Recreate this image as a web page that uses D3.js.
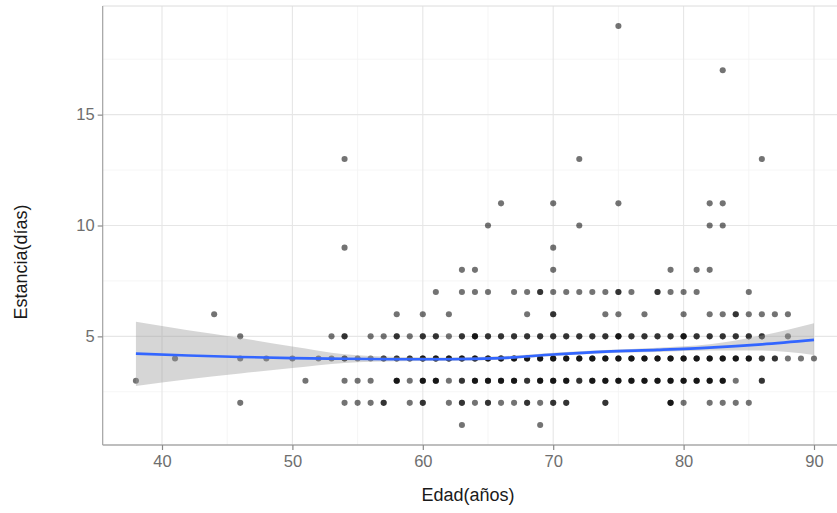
<!DOCTYPE html>
<html><head><meta charset="utf-8">
<script src="https://cdn.jsdelivr.net/npm/d3@7"></script>
<style>body{margin:0;background:#fff}svg{display:block;font-family:"Liberation Sans",Arial,Helvetica,sans-serif}</style>
</head><body><svg id="c" width="837" height="513"></svg>
<script>
// ---- data ----
const xTicks = [40, 50, 60, 70, 80, 90];
const xMinor = [35, 45, 55, 65, 75, 85];
const yTicks = [5, 10, 15];
const yMinor = [2.5, 7.5, 12.5, 17.5];
// each row: [age, number of patients] for a given stay (days)
const stay1 = [[63,1],[69,1]];
const stay2 = [[46,1],[54,1],[55,1],[56,1],[57,2],[59,1],[60,2],[62,1],[63,2],[64,1],[65,2],[66,1],[67,1],[68,2],[69,1],[70,2],[71,2],[74,2],[79,3],[80,1],[82,1],[83,1],[84,1],[85,1]];
const stay3 = [[38,1],[51,1],[54,1],[55,1],[56,1],[58,3],[59,1],[60,3],[61,3],[62,1],[63,2],[64,3],[65,3],[66,3],[67,3],[68,2],[69,3],[70,3],[71,3],[72,2],[73,3],[74,3],[75,3],[76,3],[77,3],[78,3],[79,3],[80,3],[81,3],[82,3],[83,3],[84,1],[86,2]];
const stay4 = [[41,1],[46,1],[48,1],[50,1],[52,1],[53,1],[54,2],[55,1],[56,1],[57,2],[58,2],[59,2],[60,3],[61,3],[62,3],[63,3],[64,3],[65,3],[66,3],[67,3],[68,3],[69,3],[70,3],[71,3],[72,3],[73,3],[74,3],[75,3],[76,3],[77,3],[78,3],[79,3],[80,3],[81,3],[82,3],[83,3],[84,3],[85,3],[86,2],[87,2],[88,1],[89,1],[90,1]];
const stay5 = [[46,1],[53,1],[54,2],[56,1],[57,1],[58,2],[59,1],[60,2],[61,2],[62,1],[63,2],[64,3],[65,2],[66,2],[67,2],[68,2],[69,2],[70,2],[71,2],[72,2],[73,2],[74,2],[75,3],[76,2],[77,2],[78,2],[79,2],[80,3],[81,2],[82,2],[83,2],[84,2],[85,2],[86,2],[88,1]];
const stay6 = [[44,1],[58,1],[60,1],[62,1],[68,1],[70,2],[74,1],[75,1],[77,1],[80,1],[82,1],[83,1],[84,2],[85,1],[86,1],[87,1],[88,1]];
const stay7 = [[61,1],[63,1],[64,1],[65,1],[67,1],[68,1],[69,2],[70,1],[71,1],[72,1],[73,1],[74,1],[75,2],[76,1],[78,2],[79,1],[80,1],[81,1],[85,1]];
const stay8 = [[63,1],[64,1],[70,1],[79,1],[81,1],[82,1]];
const stay9 = [[54,1],[70,1]];
const stay10 = [[65,1],[72,1],[82,1],[83,1]];
const stay11 = [[66,1],[70,1],[75,1],[82,1],[83,1]];
const stay13 = [[54,1],[72,1],[86,1]];
const stay17 = [[83,1]];
const stay19 = [[75,1]];
const stayRows = [[1,stay1],[2,stay2],[3,stay3],[4,stay4],[5,stay5],[6,stay6],[7,stay7],[8,stay8],[9,stay9],[10,stay10],[11,stay11],[13,stay13],[17,stay17],[19,stay19]];
// loess smooth with confidence band
const smoothAge = [38,42,46,50,54,58,62,66,70,74,78,82,86,90];
const smoothFit = [4.22,4.14,4.07,4.02,3.99,3.97,3.97,4.02,4.18,4.31,4.39,4.49,4.64,4.84];
const smoothLo  = [2.76,3.07,3.33,3.57,3.80,3.88,3.90,3.95,4.11,4.24,4.30,4.36,4.36,4.16];
const smoothHi  = [5.66,5.28,4.93,4.54,4.19,4.07,4.05,4.10,4.26,4.39,4.49,4.64,5.04,5.59];

// ---- layout ----
const svg = d3.select('#c');
const x = d3.scaleLinear().domain([40, 90]).range([162, 814]);
const y = d3.scaleLinear().domain([0.1, 19.9]).range([445, 6]);
const L = x(35.45), R = x(92.6), T = y(19.9), B = y(0.1);

svg.append('defs').append('clipPath').attr('id','pc')
  .append('rect').attr('x',L).attr('y',T).attr('width',R-L).attr('height',B-T);

const g = svg.append('g');
// grid
g.selectAll('.ymn').data(yMinor).join('line')
  .attr('x1',L).attr('x2',R).attr('y1',d=>y(d)).attr('y2',d=>y(d))
  .attr('stroke','#f3f3f3').attr('stroke-width',0.8);
g.selectAll('.xmn').data(xMinor.filter(d=>x(d)>L)).join('line')
  .attr('y1',T).attr('y2',B).attr('x1',d=>x(d)).attr('x2',d=>x(d))
  .attr('stroke','#f3f3f3').attr('stroke-width',0.8);
g.selectAll('.ymj').data(yTicks).join('line')
  .attr('x1',L).attr('x2',R).attr('y1',d=>y(d)).attr('y2',d=>y(d))
  .attr('stroke','#e6e6e6').attr('stroke-width',1.1);
g.selectAll('.xmj').data(xTicks).join('line')
  .attr('y1',T).attr('y2',B).attr('x1',d=>x(d)).attr('x2',d=>x(d))
  .attr('stroke','#e6e6e6').attr('stroke-width',1.1);

// points
const pts = [];
stayRows.forEach(([s,row]) => row.forEach(([a,n]) => { for (let i=0;i<n;i++) pts.push({a,s}); }));
const pg = g.append('g').attr('clip-path','url(#pc)');
pg.selectAll('circle').data(pts).join('circle')
  .attr('cx',d=>x(d.a)).attr('cy',d=>y(d.s)).attr('r',3.05)
  .attr('fill','#000').attr('fill-opacity',0.55);

// smooth band + line
const band = smoothAge.map((a,i)=>({a, lo:smoothLo[i], hi:smoothHi[i], f:smoothFit[i]}));
pg.append('path').datum(band)
  .attr('d', d3.area().x(d=>x(d.a)).y0(d=>y(d.lo)).y1(d=>y(d.hi)).curve(d3.curveMonotoneX))
  .attr('fill','#999999').attr('fill-opacity',0.4);
pg.append('path').datum(band)
  .attr('d', d3.line().x(d=>x(d.a)).y(d=>y(d.f)).curve(d3.curveMonotoneX))
  .attr('fill','none').attr('stroke','#3366FF').attr('stroke-width',2.6);

// panel border
g.append('line').attr('x1',L).attr('x2',R).attr('y1',T).attr('y2',T).attr('stroke','#dcdcdc').attr('stroke-width',1);
g.append('line').attr('x1',L).attr('x2',L).attr('y1',T).attr('y2',B).attr('stroke','#a9a9a9').attr('stroke-width',1.3);
g.append('line').attr('x1',L).attr('x2',R).attr('y1',B).attr('y2',B).attr('stroke','#a9a9a9').attr('stroke-width',1.3);

// axes
const xa = svg.append('g').attr('transform',`translate(0,${B})`)
  .call(d3.axisBottom(x).tickValues(xTicks).tickSize(5).tickPadding(5).tickFormat(d3.format('d')));
const ya = svg.append('g').attr('transform',`translate(${L},0)`)
  .call(d3.axisLeft(y).tickValues(yTicks).tickSize(5).tickPadding(3).tickFormat(d3.format('d')));
[xa,ya].forEach(a=>{
  a.select('.domain').remove();
  a.selectAll('line').attr('stroke','#8a8a8a').attr('stroke-width',1.2);
  a.selectAll('text').attr('fill','#6e6e6e').attr('font-size','16.5px')
    .attr('font-family','"Liberation Sans",Arial,sans-serif');
});

// titles
svg.append('text').attr('x',468).attr('y',501).attr('text-anchor','middle')
  .attr('font-size','18px').attr('fill','#1a1a1a').text('Edad(años)');
svg.append('text').attr('transform','translate(27,262) rotate(-90)').attr('text-anchor','middle')
  .attr('font-size','18px').attr('fill','#1a1a1a').text('Estancia(días)');
</script></body></html>
